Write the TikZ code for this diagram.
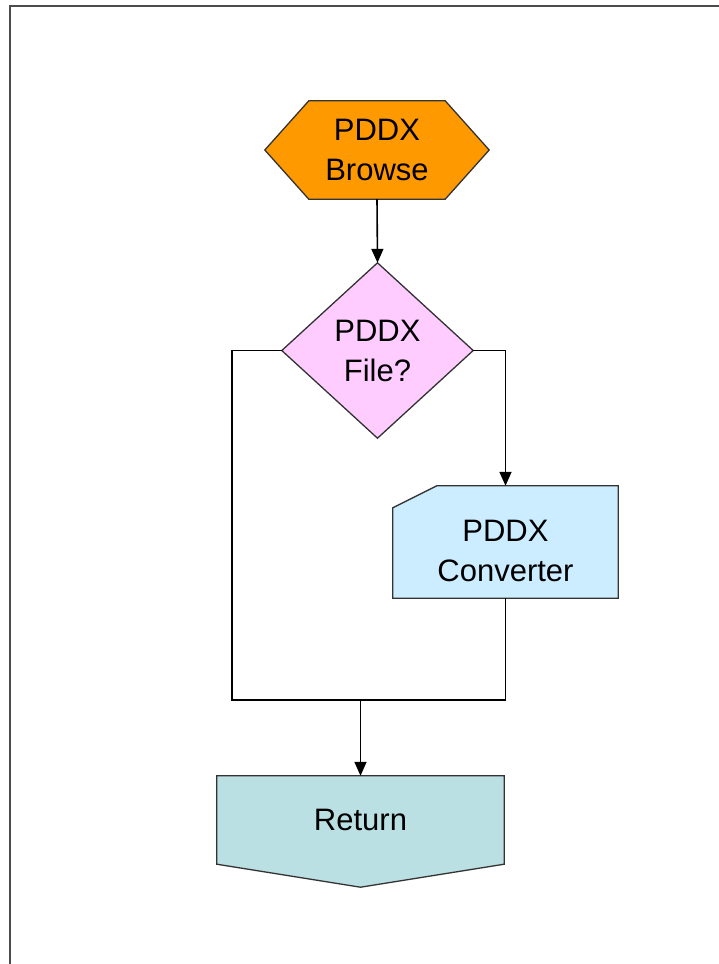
\documentclass[tikz,border=0pt]{standalone}
\usepackage{fontspec}
\setmainfont{Liberation Sans}
\usetikzlibrary{arrows.meta,backgrounds}
\definecolor{browsefill}{HTML}{FF9900}
\definecolor{decfill}{HTML}{FFCCFF}
\definecolor{convfill}{HTML}{CCECFF}
\definecolor{retfill}{HTML}{BBE0E3}
\begin{document}
\begin{tikzpicture}[x=1pt,y=-1pt,
  shapeline/.style={draw=black!80, line width=1.3pt, line join=miter},
  txt/.style={align=center, font=\fontsize{31}{40}\selectfont, inner sep=0pt},
  conn/.style={line width=1.6pt, draw=black},
  arr/.style={conn, -{Triangle[width=12pt,length=14pt]}}]
\useasboundingbox (0,0) rectangle (719,964);
\draw[draw=black!70, line width=2pt] (719,5.7) -- (9.7,5.7) -- (9.7,964);

% nodes
\node[txt, minimum width=224pt, minimum height=98pt] (browse) at (377,150) {PDDX\\Browse};
\node[txt, minimum width=191pt, minimum height=175pt] (dec) at (377.5,350.5) {PDDX\\File?};
\node[inner sep=0pt, minimum width=225pt, minimum height=112pt] (conv) at (505.5,542) {};
\node[txt] (convtext) at ([yshift=-9pt]conv.center) {PDDX\\Converter};
\node[txt, minimum width=287pt, minimum height=88pt] (ret) at (360.5,820) {Return};

% shapes
\begin{scope}[on background layer]
\draw[shapeline, fill=browsefill] ([xshift=44pt]browse.north west) -- ([xshift=-44pt]browse.north east) -- (browse.east) -- ([xshift=-44pt]browse.south east) -- ([xshift=44pt]browse.south west) -- (browse.west) -- cycle;
\draw[shapeline, fill=decfill] (dec.north) -- (dec.east) -- (dec.south) -- (dec.west) -- cycle;
\draw[shapeline, fill=convfill] ([xshift=44pt]conv.north west) -- (conv.north east) -- (conv.south east) -- (conv.south west) -- ([yshift=-22pt]conv.north west) -- cycle;
\draw[shapeline, fill=retfill] (ret.north west) -- (ret.north east) -- (ret.south east) -- ([yshift=-23pt]ret.south) -- (ret.south west) -- cycle;
\end{scope}

% connectors
\coordinate (jl) at (232,700);
\coordinate (jr) at (conv.south |- jl);
\coordinate (jm) at (ret.north |- jl);
\draw[arr] (browse.south) -- (dec.north);
\draw[arr] (dec.east) -| (conv.north);
\draw[conn] (dec.west) -| (jl) -- (jr) -- (conv.south);
\draw[arr] (jm) -- (ret.north);
\end{tikzpicture}
\end{document}
